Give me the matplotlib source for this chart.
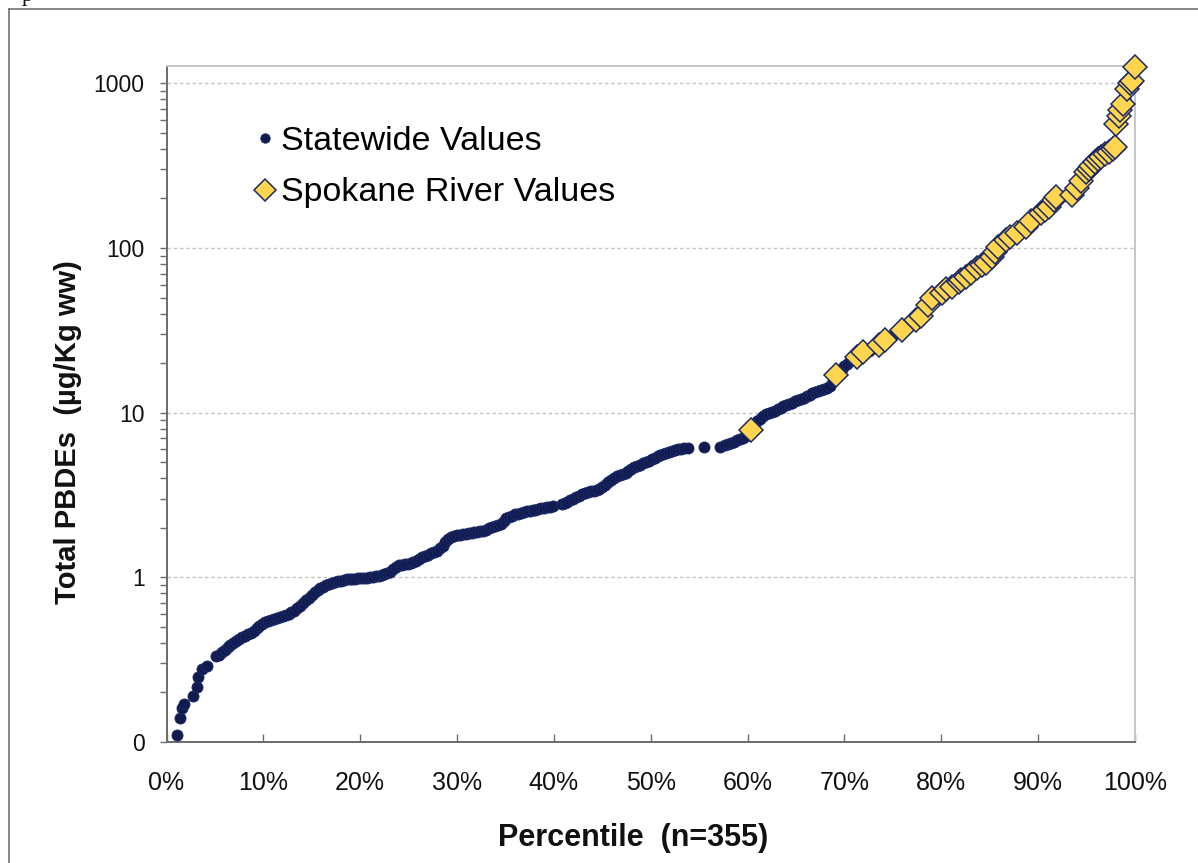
import matplotlib
matplotlib.use("Agg")
import matplotlib.pyplot as plt
from matplotlib.lines import Line2D
from matplotlib.ticker import FixedLocator, FuncFormatter, LogLocator, NullFormatter

plt.rcParams['font.family'] = ['Liberation Sans', 'DejaVu Sans']

# ---- data: percentile (%) and total PBDEs (ug/Kg ww) ----
statewide_pct = [
    1.1, 1.4, 1.6, 1.85, 2.75, 3.1, 3.3, 3.65, 4.2,
    5.1, 5.4, 5.7, 6.0, 6.3, 6.6, 6.9, 7.2, 7.5, 7.8,
    8.1, 8.4, 8.7, 9.0, 9.3, 9.6, 9.9, 10.2, 10.5, 10.8,
    11.1, 11.4, 11.7, 12.0, 12.3, 12.6, 12.9, 13.2, 13.5, 13.8,
    14.1, 14.4, 14.7, 15.0, 15.3, 15.6, 15.9, 16.2, 16.5, 16.8,
    17.1, 17.4, 17.7, 18.0, 18.3, 18.6, 18.9, 19.2, 19.5, 19.8,
    20.1, 20.4, 20.7, 21.0, 21.3, 21.6, 21.9, 22.2, 22.5, 22.8,
    23.1, 23.4, 23.7, 24.0, 24.3, 24.6, 24.9, 25.2, 25.5, 25.8,
    26.1, 26.4, 26.7, 27.0, 27.3, 27.6, 27.9, 28.2, 28.5, 28.8,
    29.1, 29.4, 29.7, 30.0, 30.3, 30.6, 30.9, 31.2, 31.5, 31.8,
    32.1, 32.4, 32.7, 33.0, 33.3, 33.6, 33.9, 34.2, 34.5, 34.8,
    35.1, 35.4, 35.7, 36.0, 36.3, 36.6, 36.9, 37.2, 37.5, 37.8,
    38.1, 38.4, 38.7, 39.0, 39.3, 39.6, 39.9,
    40.8, 41.1, 41.4, 41.7, 42.0, 42.3, 42.6, 42.9, 43.2, 43.5,
    43.8, 44.1, 44.4, 44.7, 45.0, 45.3, 45.6, 45.9, 46.2, 46.5,
    46.8, 47.1, 47.4, 47.7, 48.0, 48.3, 48.6, 48.9, 49.2, 49.5,
    49.8, 50.1, 50.4, 50.7, 51.0, 51.3, 51.6, 51.9, 52.2, 52.5,
    52.8, 53.1, 53.4, 53.8,
    55.5, 57.2,
    57.7, 58.0, 58.3, 58.6, 58.9, 59.2, 59.5, 59.8, 60.1, 60.4,
    60.7, 61.0, 61.3, 61.6, 61.9, 62.2, 62.5, 62.8, 63.1, 63.4,
    63.7, 64.0, 64.3, 64.6, 64.9, 65.2, 65.5, 65.8, 66.1, 66.4,
    66.7, 67.0, 67.3, 67.6, 67.9, 68.2, 68.5, 68.8, 69.1, 69.4,
    69.7, 70.0, 70.3, 70.6, 70.9, 71.2, 71.5, 71.8, 72.1, 72.5,
    73.0, 73.5, 74.0, 74.5, 75.0, 75.5, 76.0, 76.5, 77.0, 77.5,
    78.0, 78.5, 79.0, 79.5, 80.0, 80.5, 81.0, 81.5, 82.0, 82.5,
    83.0, 83.5, 84.0, 84.5, 85.0, 85.5, 86.0, 86.5, 87.0, 87.5,
    88.0, 88.5, 89.0, 89.5, 90.0, 90.5, 91.0, 91.5, 92.0, 92.5,
    93.0, 93.5, 94.0, 94.5, 95.0, 95.5, 96.0, 96.5, 97.0, 97.5,
    97.9, 98.0, 98.5, 99.0, 99.5, 100.0,
]
statewide_val = [
    0.110, 0.139, 0.160, 0.169, 0.189, 0.217, 0.247, 0.279, 0.288,
    0.331, 0.338, 0.351, 0.364, 0.377, 0.390, 0.400, 0.412, 0.423, 0.434,
    0.443, 0.452, 0.462, 0.475, 0.490, 0.508, 0.522, 0.537, 0.546, 0.553,
    0.561, 0.567, 0.575, 0.583, 0.590, 0.603, 0.615, 0.628, 0.648, 0.670,
    0.697, 0.724, 0.752, 0.785, 0.815, 0.843, 0.862, 0.878, 0.893, 0.908,
    0.921, 0.933, 0.945, 0.955, 0.965, 0.972, 0.976, 0.979, 0.982, 0.984,
    0.986, 0.990, 0.995, 1.002, 1.008, 1.014, 1.025, 1.038, 1.05, 1.065,
    1.08, 1.12, 1.16, 1.185, 1.195, 1.203, 1.21, 1.217, 1.235, 1.26,
    1.29, 1.325, 1.35, 1.375, 1.40, 1.42, 1.45, 1.50, 1.56, 1.63,
    1.70, 1.75, 1.785, 1.80, 1.81, 1.825, 1.84, 1.85, 1.86, 1.875,
    1.89, 1.90, 1.92, 1.95, 1.98, 2.01, 2.04, 2.07, 2.12, 2.20,
    2.28, 2.33, 2.37, 2.41, 2.44, 2.47, 2.50, 2.52, 2.54, 2.56,
    2.58, 2.60, 2.62, 2.64, 2.66, 2.68, 2.70,
    2.80, 2.84, 2.88, 2.94, 3.00, 3.07, 3.14, 3.20, 3.26, 3.30,
    3.33, 3.36, 3.38, 3.42, 3.52, 3.64, 3.78, 3.92, 4.03, 4.10,
    4.16, 4.22, 4.30, 4.42, 4.55, 4.66, 4.76, 4.84, 4.92, 5.00,
    5.12, 5.22, 5.32, 5.42, 5.52, 5.62, 5.70, 5.78, 5.85, 5.93,
    6.00, 6.04, 6.08, 6.12,
    6.21, 6.21,
    6.36, 6.45, 6.56, 6.68, 6.80, 6.90, 6.99, 7.2, 7.6, 8.0,
    8.5, 8.9, 9.2, 9.5, 9.75, 9.95, 10.1, 10.3, 10.5, 10.75,
    11.0, 11.15, 11.35, 11.5, 11.7, 11.9, 12.1, 12.35, 12.6, 12.85,
    13.1, 13.3, 13.5, 13.75, 14.0, 14.2, 14.6, 15.5, 17.0, 17.8,
    18.5, 19.2, 19.8, 20.5, 21.2, 21.8, 22.3, 22.8, 23.2, 23.8,
    24.6, 25.5, 26.8, 28.2, 29.5, 30.8, 32.0, 33.5, 35.0, 37.0,
    39.5, 43.5, 49.0, 51.5, 53.0, 55.5, 58.0, 61.0, 64.0, 67.0,
    70.5, 74.5, 78.0, 81.0, 86.0, 94.0, 103.0, 110.0, 115.0, 120.0,
    126.0, 132.0, 140.0, 148.0, 157.0, 166.0, 176.0, 192.0, 205.0, 207.0,
    209.0, 212.0, 232.0, 258.0, 290.0, 316.0, 338.0, 356.0, 372.0, 390.0,
    410.0, 560.0, 690.0, 800.0, 1000.0, 1250.0,
]

spokane_pct = [
    60.3, 69.1, 71.3, 71.9, 73.6, 74.2, 75.9, 77.4, 77.9, 78.6,
    79.0, 80.1, 80.5, 81.1, 81.8, 82.0, 82.6, 83.1, 83.7, 84.2,
    84.6, 85.2, 85.5, 85.9, 86.7, 87.1, 87.8, 88.7, 89.3, 90.3,
    90.7, 91.1, 91.6, 91.8, 93.5, 94.0, 94.4, 94.9, 95.2, 95.5,
    95.9, 96.2, 96.5, 96.9, 97.3, 97.7, 97.9, 98.0, 98.3, 98.5,
    98.8, 99.2, 99.5, 99.7, 100.0,
]
spokane_val = [
    7.85, 17.0, 21.8, 23.4, 25.8, 27.6, 31.9, 36.7, 38.7, 45.0,
    49.7, 53.5, 56.0, 58.0, 62.0, 64.1, 67.0, 70.9, 76.0, 78.5,
    81.4, 88.8, 94.0, 102.0, 112.0, 116.0, 124.0, 135.0, 145.0, 164.0,
    170.0, 178.0, 195.0, 205.0, 211.0, 230.0, 254.0, 288.0, 300.0, 315.0,
    335.0, 348.0, 358.0, 370.0, 385.0, 398.0, 410.0, 565.0, 635.0, 690.0,
    750.0, 920.0, 1000.0, 1040.0, 1250.0,
]

x_ticks = [0, 10, 20, 30, 40, 50, 60, 70, 80, 90, 100]
y_ticks = [0.1, 1, 10, 100, 1000]

series_names = ['Statewide Values', 'Spokane River Values']
x_title = 'Percentile  (n=355)'
y_title = 'Total PBDEs  (\u00b5g/Kg ww)'

# ---- styling ----
NAVY = '#101a4c'
NAVY_EDGE = '#1d2b6c'
GOLD = '#ffd54f'
AXIS_DARK = '#6b6b6b'
AXIS_LIGHT = '#c6c6c6'

W, H = 1198, 863
fig = plt.figure(figsize=(W / 100, H / 100), dpi=100)
ax = fig.add_axes([166.5 / W, 1 - 742 / H, (1135 - 166.5) / W, (742 - 66) / H])

ax.set_yscale('log')
ax.set_xlim(0, 100)
ax.set_ylim(0.1, 1275)

# horizontal dotted gridlines at each decade
for v in y_ticks[1:]:
    ax.axhline(v, color='#c4c4c4', lw=1.0, ls=(0, (2.5, 2.0)), zorder=1)

ax.plot(statewide_pct, statewide_val, ls='none', marker='o', ms=8.0,
        mfc=NAVY, mec=NAVY_EDGE, mew=0.6, zorder=3)
ax.plot(spokane_pct, spokane_val, ls='none', marker='D', ms=12.3,
        mfc=GOLD, mec='#1b2a66', mew=1.1, zorder=4, clip_on=False)

# axes frame
for side in ('left', 'bottom'):
    ax.spines[side].set_color(AXIS_DARK)
    ax.spines[side].set_linewidth(1.4)
for side in ('top', 'right'):
    ax.spines[side].set_color(AXIS_LIGHT)
    ax.spines[side].set_linewidth(1.4)

# y axis: log decades, first decade shown as 0
ax.yaxis.set_major_locator(FixedLocator(y_ticks))
ax.yaxis.set_major_formatter(FuncFormatter(lambda v, _: '0' if v < 0.5 else f'{v:g}'))
ax.yaxis.set_minor_locator(LogLocator(base=10, subs=[2, 3, 4, 5, 6, 7, 8, 9], numticks=20))
ax.yaxis.set_minor_formatter(NullFormatter())
ax.tick_params(axis='y', which='both', direction='out', length=5.0, width=1.0,
               color=AXIS_DARK, labelsize=16.5, pad=10.8, labelcolor='#111111')

# x axis: percentiles
ax.xaxis.set_major_locator(FixedLocator(x_ticks))
ax.xaxis.set_major_formatter(FuncFormatter(lambda v, _: f'{int(round(v))}%'))
ax.tick_params(axis='x', which='both', direction='in', length=5.8, width=1.0,
               color=AXIS_DARK, labelsize=18, pad=21.0, labelcolor='#111111')
ax.tick_params(axis='both', which='both', top=False, right=False)

# axis titles
fig.text(633 / W, 1 - 838 / H, x_title, ha='center', va='center',
         fontsize=22, fontweight='bold', color='#111111')
fig.text(68 / W, 1 - 432.5 / H, y_title, ha='center', va='center', rotation=90,
         fontsize=21, fontweight='bold', color='#111111')

# legend
handles = [
    Line2D([], [], ls='none', marker='o', ms=6.8, mfc=NAVY, mec=NAVY_EDGE, mew=0.6),
    Line2D([], [], ls='none', marker='D', ms=11.0, mfc=GOLD, mec='#1b2a66', mew=1.1),
]
ax.legend(handles, series_names, loc='upper left',
          bbox_to_anchor=((250 - 166.5) / (1135 - 166.5), (742 - 126) / (742 - 66)),
          frameon=False, fontsize=24.5, handlelength=0.9, handletextpad=0.02,
          labelspacing=0.6, borderpad=0, borderaxespad=0)

# page frame around the chart
fig.add_artist(Line2D([9 / W, 1.0], [1 - 9 / H, 1 - 9 / H], transform=fig.transFigure,
                      color='#666666', lw=1.1))
fig.add_artist(Line2D([9 / W, 9 / W], [1 - 9 / H, 0.0], transform=fig.transFigure,
                      color='#666666', lw=1.1))
fig.text(22 / W, 1 - 1.5 / H, 'p', family='Liberation Serif', fontsize=16,
         va='baseline', ha='left', color='#111111')

fig.savefig('out.png', dpi=100, facecolor='white')
